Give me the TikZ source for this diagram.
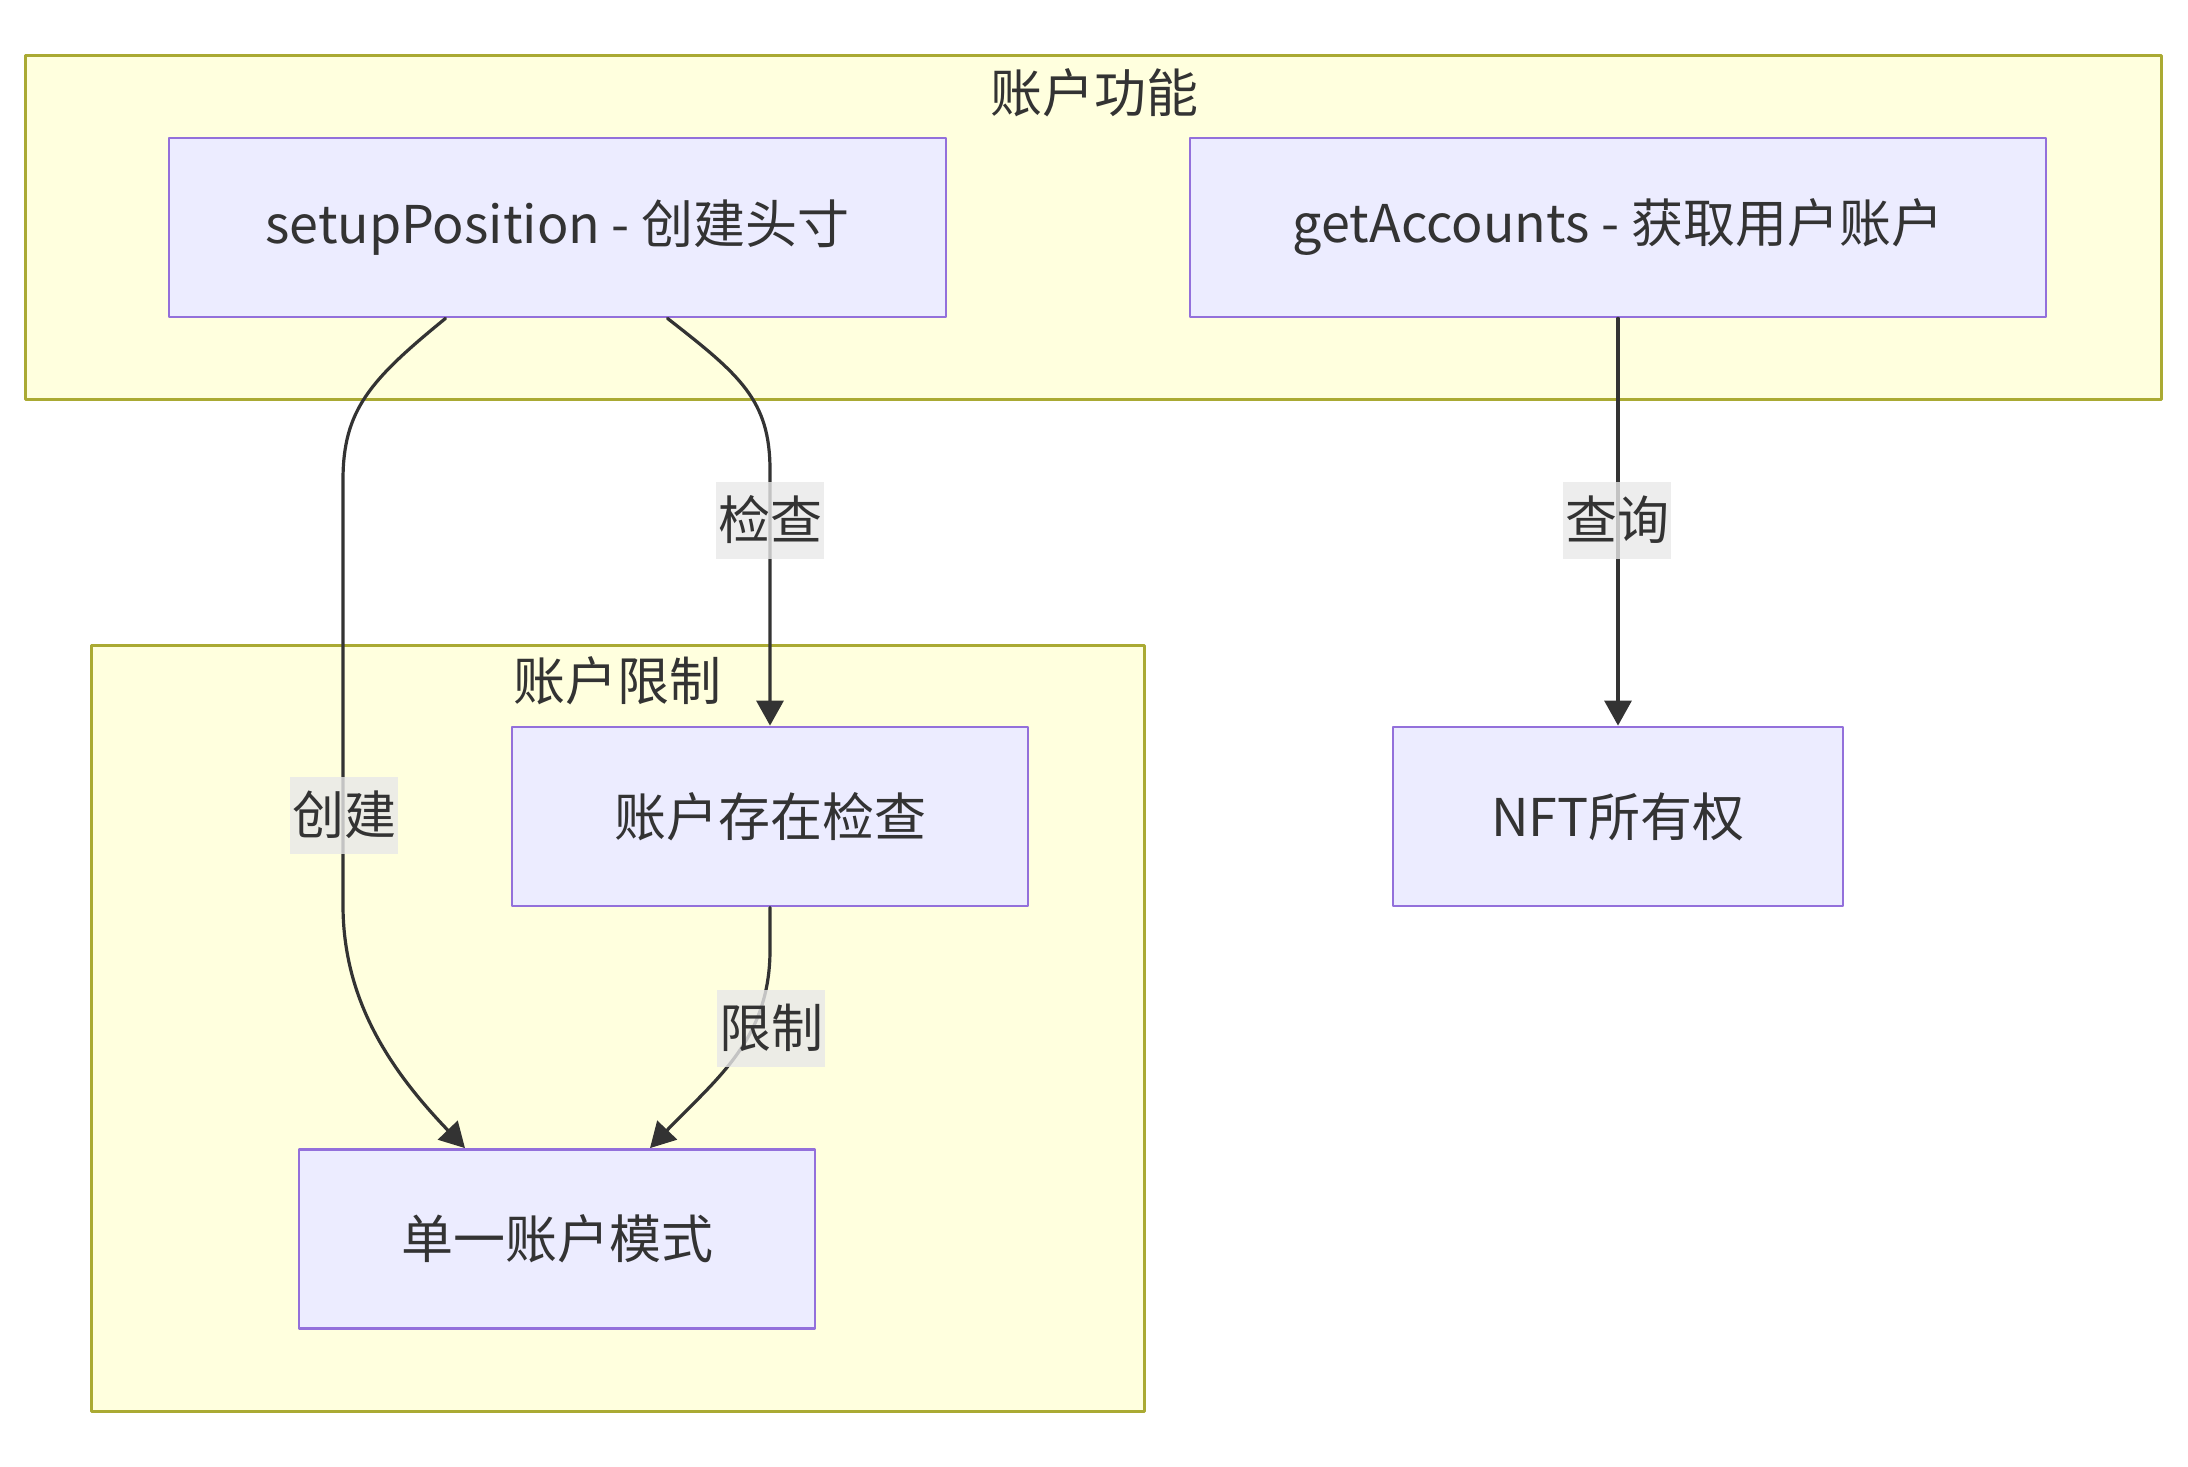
\documentclass[tikz,border=0pt]{standalone}
\usepackage{fontspec}
\setmainfont{Noto Sans CJK SC}
\usetikzlibrary{arrows.meta}
\definecolor{ffffde}{rgb}{1,1,0.871}
\definecolor{aaaatt}{rgb}{0.667,0.667,0.2}
\definecolor{ececff}{rgb}{0.925,0.925,1}
\definecolor{ppwwdb}{rgb}{0.576,0.439,0.859}
\definecolor{tttttt}{rgb}{0.2,0.2,0.2}
\definecolor{eeeeee}{rgb}{0.91,0.91,0.91}

\begin{document}
\begin{tikzpicture}[line cap=round,line join=round,>={Triangle[length=12.5pt,width=13.5pt]},x=0.5pt,y=-0.5pt,
		box/.style={draw=ppwwdb,fill=ececff,line width=1.4pt,minimum width=#1,minimum height=89.5pt,text=tttttt,font=\fontsize{26pt}{31pt}\selectfont},
		cluster/.style={draw=aaaatt,fill=ffffde,line width=1.5pt},
		ctitle/.style={text=tttttt,font=\fontsize{26pt}{31pt}\selectfont},
		elabel/.style={fill=eeeeee,fill opacity=0.8,text opacity=1,text=tttttt,inner xsep=1pt,minimum height=38.5pt,font=\fontsize{26pt}{31pt}\selectfont},
		link/.style={->,draw=tttttt,line width=1.6pt}]
	\useasboundingbox (0,0) rectangle (2188,1466);
		\draw[cluster] (25,56) rectangle (2161,399);
			\node[ctitle] (tfunc) at (1094,93) {账户功能};
		\draw[cluster] (91,645) rectangle (1144,1411);
			\node[ctitle] (tlimit) at (617,681) {账户限制};
	\node[box=388.5pt] (setup) at (557.5,227.5) {setupPosition - 创建头寸};
	\node[box=428pt] (getacc) at (1618,227.5) {getAccounts - 获取用户账户};
	\node[box=258pt] (check) at (770,816.5) {账户存在检查};
	\node[box=258pt] (single) at (557,1239) {单一账户模式};
	\node[box=225pt] (nft) at (1618,816.5) {NFT所有权};
		\draw[link] ([xshift=-56pt]setup.south) .. controls (370,380) and (343,410) .. (343,480) -- (343,905) .. controls (343,1000) and (390,1070) .. ([xshift=-46pt]single.north);
		\draw[link] ([xshift=55pt]setup.south) .. controls (740,375) and (770,400) .. (770,470) -- (check.north);
		\draw[link] (check.south) -- (770,950) .. controls (770,1040) and (715,1080) .. ([xshift=46.5pt]single.north);
		\draw[link] (getacc.south) -- (nft.north);
	\node[elabel] (lcreate) at (344,815) {创建};
	\node[elabel] (lcheck) at (770,520) {检查};
	\node[elabel] (llimit) at (771,1028) {限制};
	\node[elabel] (lquery) at (1617,520) {查询};
\end{tikzpicture}
\end{document}
